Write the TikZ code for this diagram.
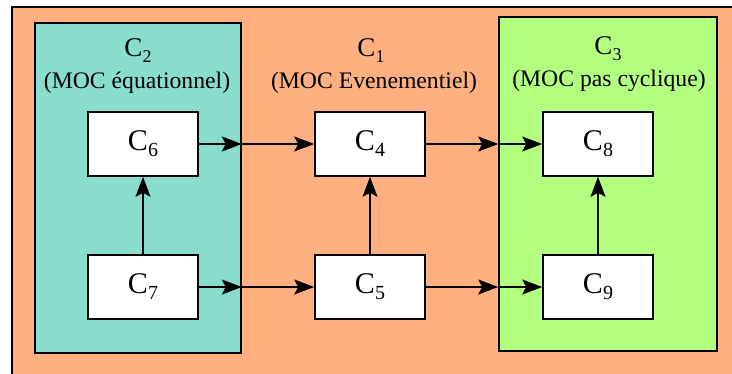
\documentclass[tikz,border=0pt]{standalone}
\usepackage{fontspec}
\setmainfont{Liberation Serif}
\usetikzlibrary{arrows.meta}
\definecolor{bgorange}{RGB}{255,176,128}
\definecolor{tealbox}{RGB}{136,221,204}
\definecolor{greenbox}{RGB}{179,255,128}
\newcommand\Csub[1]{C\raisebox{-6pt}{\fontsize{18}{18}\selectfont #1}}
\newcommand\Cbox[1]{C\raisebox{-6pt}{\fontsize{20}{20}\selectfont #1}}
\begin{document}
\begin{tikzpicture}[x=1pt,y=-1pt,
 blk/.style={draw=black, line width=1.6pt, fill=white, minimum width=110pt, minimum height=64pt, inner sep=0pt, font=\fontsize{30}{30}\selectfont},
 cont/.style={draw=black, line width=1.6pt, inner sep=0pt},
 ttl/.style={anchor=base, font=\fontsize{27}{27}\selectfont, inner sep=0pt},
 subttl/.style={anchor=base, font=\fontsize{23.7}{23.7}\selectfont, inner sep=0pt},
 arr/.style={line width=1.5pt, -{Stealth[length=20pt,width=15pt,inset=4pt]}}]
\clip (0,0) rectangle (732,374);
\useasboundingbox (0,0) rectangle (732,374);
\fill[white] (0,0) rectangle (732,374);
\draw[fill=bgorange, line width=1.6pt] (12,7) rectangle (780,420);
\node[cont, fill=tealbox, minimum width=206pt, minimum height=330pt] (c2) at (138,188) {};
\node[cont, fill=greenbox, minimum width=218pt, minimum height=334pt] (c3) at (608,184) {};

\node[ttl] (t2) at (138,57) {\Csub{2}};
\node[subttl] (s2) at (137,89) {(MOC équationnel)};
\node[ttl] (t1) at (371,57) {\Csub{1}};
\node[subttl] (s1) at (374,89) {(MOC Evenementiel)};
\node[ttl] (t3) at (608,55) {\Csub{3}};
\node[subttl] (s3) at (609,87) {(MOC pas cyclique)};

\node[blk] (c6) at (143,144) {\Cbox{6}};
\node[blk] (c7) at (143,287) {\Cbox{7}};
\node[blk] (c4) at (370,144) {\Cbox{4}};
\node[blk] (c5) at (370,287) {\Cbox{5}};
\node[blk] (c8) at (598,144) {\Cbox{8}};
\node[blk] (c9) at (598,287) {\Cbox{9}};

\draw[arr] (c7) -- (c6);
\draw[arr] (c5) -- (c4);
\draw[arr] (c9) -- (c8);

\draw[arr] (c6.east) -- (c6.east -| c2.east);
\draw[arr] (c6.east -| c2.east) -- (c4.west);
\draw[arr] (c7.east) -- (c7.east -| c2.east);
\draw[arr] (c7.east -| c2.east) -- (c5.west);
\draw[arr] (c4.east) -- (c4.east -| c3.west);
\draw[arr] (c4.east -| c3.west) -- (c8.west);
\draw[arr] (c5.east) -- (c5.east -| c3.west);
\draw[arr] (c5.east -| c3.west) -- (c9.west);
\end{tikzpicture}
\end{document}
